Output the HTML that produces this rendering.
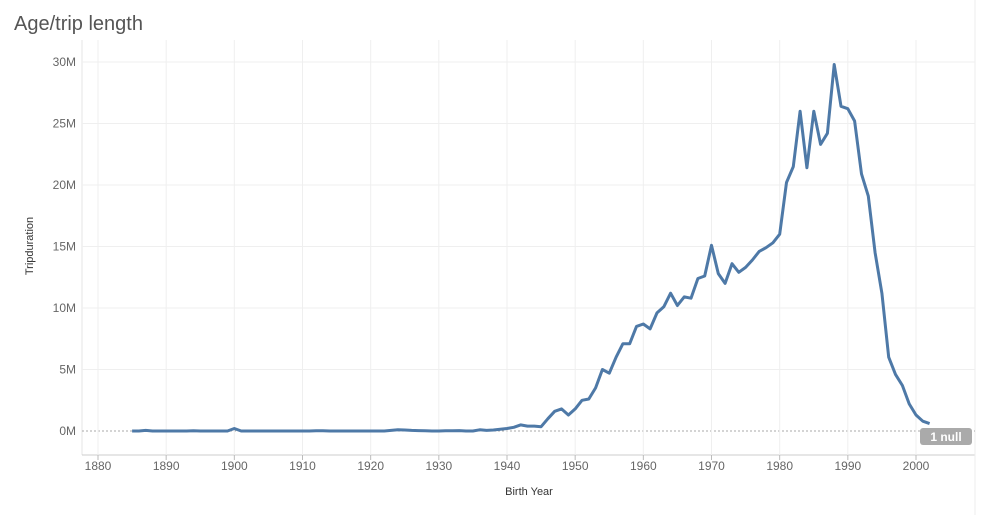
<!DOCTYPE html>
<html><head><meta charset="utf-8"><style>
body{margin:0;background:#fff;font-family:"Liberation Sans",sans-serif}
#wrap{position:relative;width:987px;height:515px;overflow:hidden}
</style></head><body>
<div id="wrap">
<svg id="chart" width="987" height="515"></svg>
</div>
<script>
const years=[];for(let y=1885;y<=2002;y++)years.push(y);
const early=[0,0,0.05,0,0,0,0,0,0,0.02,0,0,0,0,0,0.2,0,0,0,0,0,0,0,0,0,0,0,0.02,0.02,0,0,0,0,0,0,0,0,0,0.05,0.1,0.08,0.05,0.03,0.02,0,0,0.02,0.02,0.03,0,0,0.1,0.05,0.08,0.15];
const late=[0.2,0.3,0.5,0.4,0.4,0.35,1.0,1.6,1.8,1.3,1.8,2.5,2.6,3.5,5.0,4.7,6.0,7.1,7.1,8.5,8.7,8.3,9.6,10.1,11.2,10.2,10.9,10.8,12.4,12.6,15.1,12.8,12.0,13.6,12.9,13.3,13.9,14.6,14.9,15.3,16.0,20.2,21.5,26.0,21.4,26.0,23.3,24.2,29.8,26.4,26.2,25.2,20.9,19.1,14.5,11.2,6.0,4.6,3.7,2.2,1.3,0.8,0.6];
const values=early.concat(late);
const xTicks=[1880,1890,1900,1910,1920,1930,1940,1950,1960,1970,1980,1990,2000];
const yTicks=[0,5,10,15,20,25,30];
const yLabels=["0M","5M","10M","15M","20M","25M","30M"];
const svg=document.getElementById('chart');const NS="http://www.w3.org/2000/svg";
const X=v=>98+(v-1880)*(916-98)/120;
const Y=v=>431-v*(431-62)/30;
function mk(t,a,p){const e=document.createElementNS(NS,t);for(const k in a)e.setAttribute(k,a[k]);(p||svg).appendChild(e);return e;}
let t=mk('text',{x:14,y:30,'font-size':20,fill:'#555'});t.textContent='Age/trip length';


mk('line',{x1:82,y1:40,x2:82,y2:455,stroke:'#e6e6e6'});
mk('line',{x1:82,y1:455,x2:975,y2:455,stroke:'#ccc'});
mk('line',{x1:975,y1:0,x2:975,y2:515,stroke:'#eee'});
yTicks.forEach((v,i)=>{
 if(v>0)mk('line',{x1:82,x2:975,y1:Y(v),y2:Y(v),stroke:'#efefef'});
 const l=mk('text',{x:76,y:Y(v)+4,'font-size':12,fill:'#666','text-anchor':'end'});l.textContent=yLabels[i];
 
 
});
mk('line',{x1:82,x2:975,y1:Y(0),y2:Y(0),stroke:'#aaa','stroke-dasharray':'2,2'});
xTicks.forEach(v=>{
 mk('line',{x1:X(v),x2:X(v),y1:40,y2:455,stroke:'#efefef'});
 mk('line',{x1:X(v),x2:X(v),y1:455,y2:460,stroke:'#bbb'});
 const l=mk('text',{x:X(v),y:470,'font-size':12,fill:'#666','text-anchor':'middle'});l.textContent=v;
 
 
});
let xt=mk('text',{x:529,y:495,'font-size':11,fill:'#333','text-anchor':'middle'});xt.textContent='Birth Year';


let yt=mk('text',{x:0,y:0,'font-size':11,fill:'#333','text-anchor':'middle',transform:'translate(33,246) rotate(-90)'});yt.textContent='Tripduration';


const d=values.map((v,i)=>(i?'L':'M')+X(years[i]).toFixed(1)+','+Y(v).toFixed(1)).join('');
const p=mk('path',{d:d,fill:'none',stroke:'#4e79a7','stroke-width':3,'stroke-linejoin':'round'});


const g=mk('g',{});


mk('rect',{x:920,y:428,width:52,height:17,rx:3,fill:'#aaa'},g);
const nt=mk('text',{x:946,y:441,'font-size':12,'font-weight':'bold',fill:'#fff','text-anchor':'middle'},g);nt.textContent='1 null';
</script>
</body></html>
